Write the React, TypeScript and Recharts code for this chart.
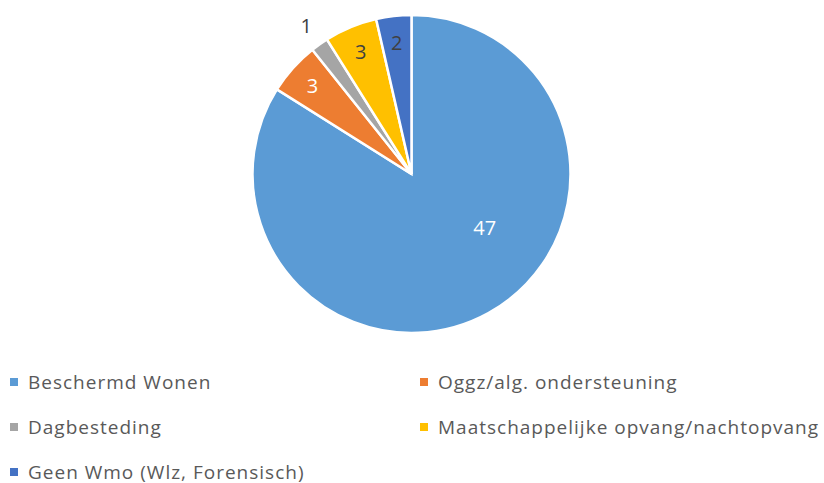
import { PieChart, Pie, Cell, Legend } from 'recharts'

const categories = [
  'Beschermd Wonen',
  'Oggz/alg. ondersteuning',
  'Dagbesteding',
  'Maatschappelijke opvang/nachtopvang',
  'Geen Wmo (Wlz, Forensisch)',
]
const values = [47, 3, 1, 3, 2]
const colors = ['#5B9BD5', '#ED7D31', '#A5A5A5', '#FFC000', '#4472C4']
const labelColors = ['#FFFFFF', '#FFFFFF', '#404040', '#404040', '#404040']

const data = categories.map((name, i) => ({ name, value: values[i] }))

const RAD = Math.PI / 180
const FONT = '"Open Sans", sans-serif'

const renderLabel = (props: any) => {
  const { cx, cy, midAngle, outerRadius, index, value } = props
  let angle = midAngle
  let r = outerRadius * 0.835
  if (index === 0) {
    // big slice: Excel puts its label nearer the right side
    angle = midAngle + 25
    r = outerRadius * 0.57
  }
  if (value <= 1) r = outerRadius * 1.145
  const x = cx + r * Math.cos(-angle * RAD)
  const y = cy + r * Math.sin(-angle * RAD)
  return (
    <text
      x={x}
      y={y}
      fill={labelColors[index]}
      textAnchor="middle"
      dominantBaseline="central"
      fontSize={20}
      fontFamily={FONT}
    >
      {value}
    </text>
  )
}

const renderLegend = () => (
  <div
    style={{
      display: 'grid',
      gridTemplateColumns: '410px 414px',
      rowGap: 29,
      fontFamily: FONT,
      fontSize: 19,
      letterSpacing: 1,
      color: '#595959',
    }}
  >
    {categories.map((name, i) => (
      <div
        key={name}
        style={{ display: 'flex', alignItems: 'center', height: 16, lineHeight: '16px', paddingLeft: 10 }}
      >
        <span
          style={{
            display: 'inline-block',
            width: 8,
            height: 8,
            background: colors[i],
            marginRight: 10,
          }}
        />
        <span>{name}</span>
      </div>
    ))}
  </div>
)

export default function App() {
  return (
    <div style={{ width: 824, height: 483, background: '#fff' }}>
      <style>{`body{margin:0}`}</style>
      <PieChart width={824} height={483} margin={{ top: 0, right: 0, bottom: 0, left: 0 }}>
        <Pie
          data={data}
          dataKey="value"
          nameKey="name"
          cx={411.5}
          cy={174}
          outerRadius={159}
          startAngle={90}
          endAngle={-270}
          stroke="#FFFFFF"
          strokeWidth={2.5}
          label={renderLabel}
          labelLine={false}
          isAnimationActive={false}
        >
          {data.map((d, i) => (
            <Cell key={d.name} fill={colors[i]} />
          ))}
        </Pie>
        <Legend
          content={renderLegend}
          wrapperStyle={{ left: 0, top: 374, width: 824 }}
        />
      </PieChart>
    </div>
  )
}
